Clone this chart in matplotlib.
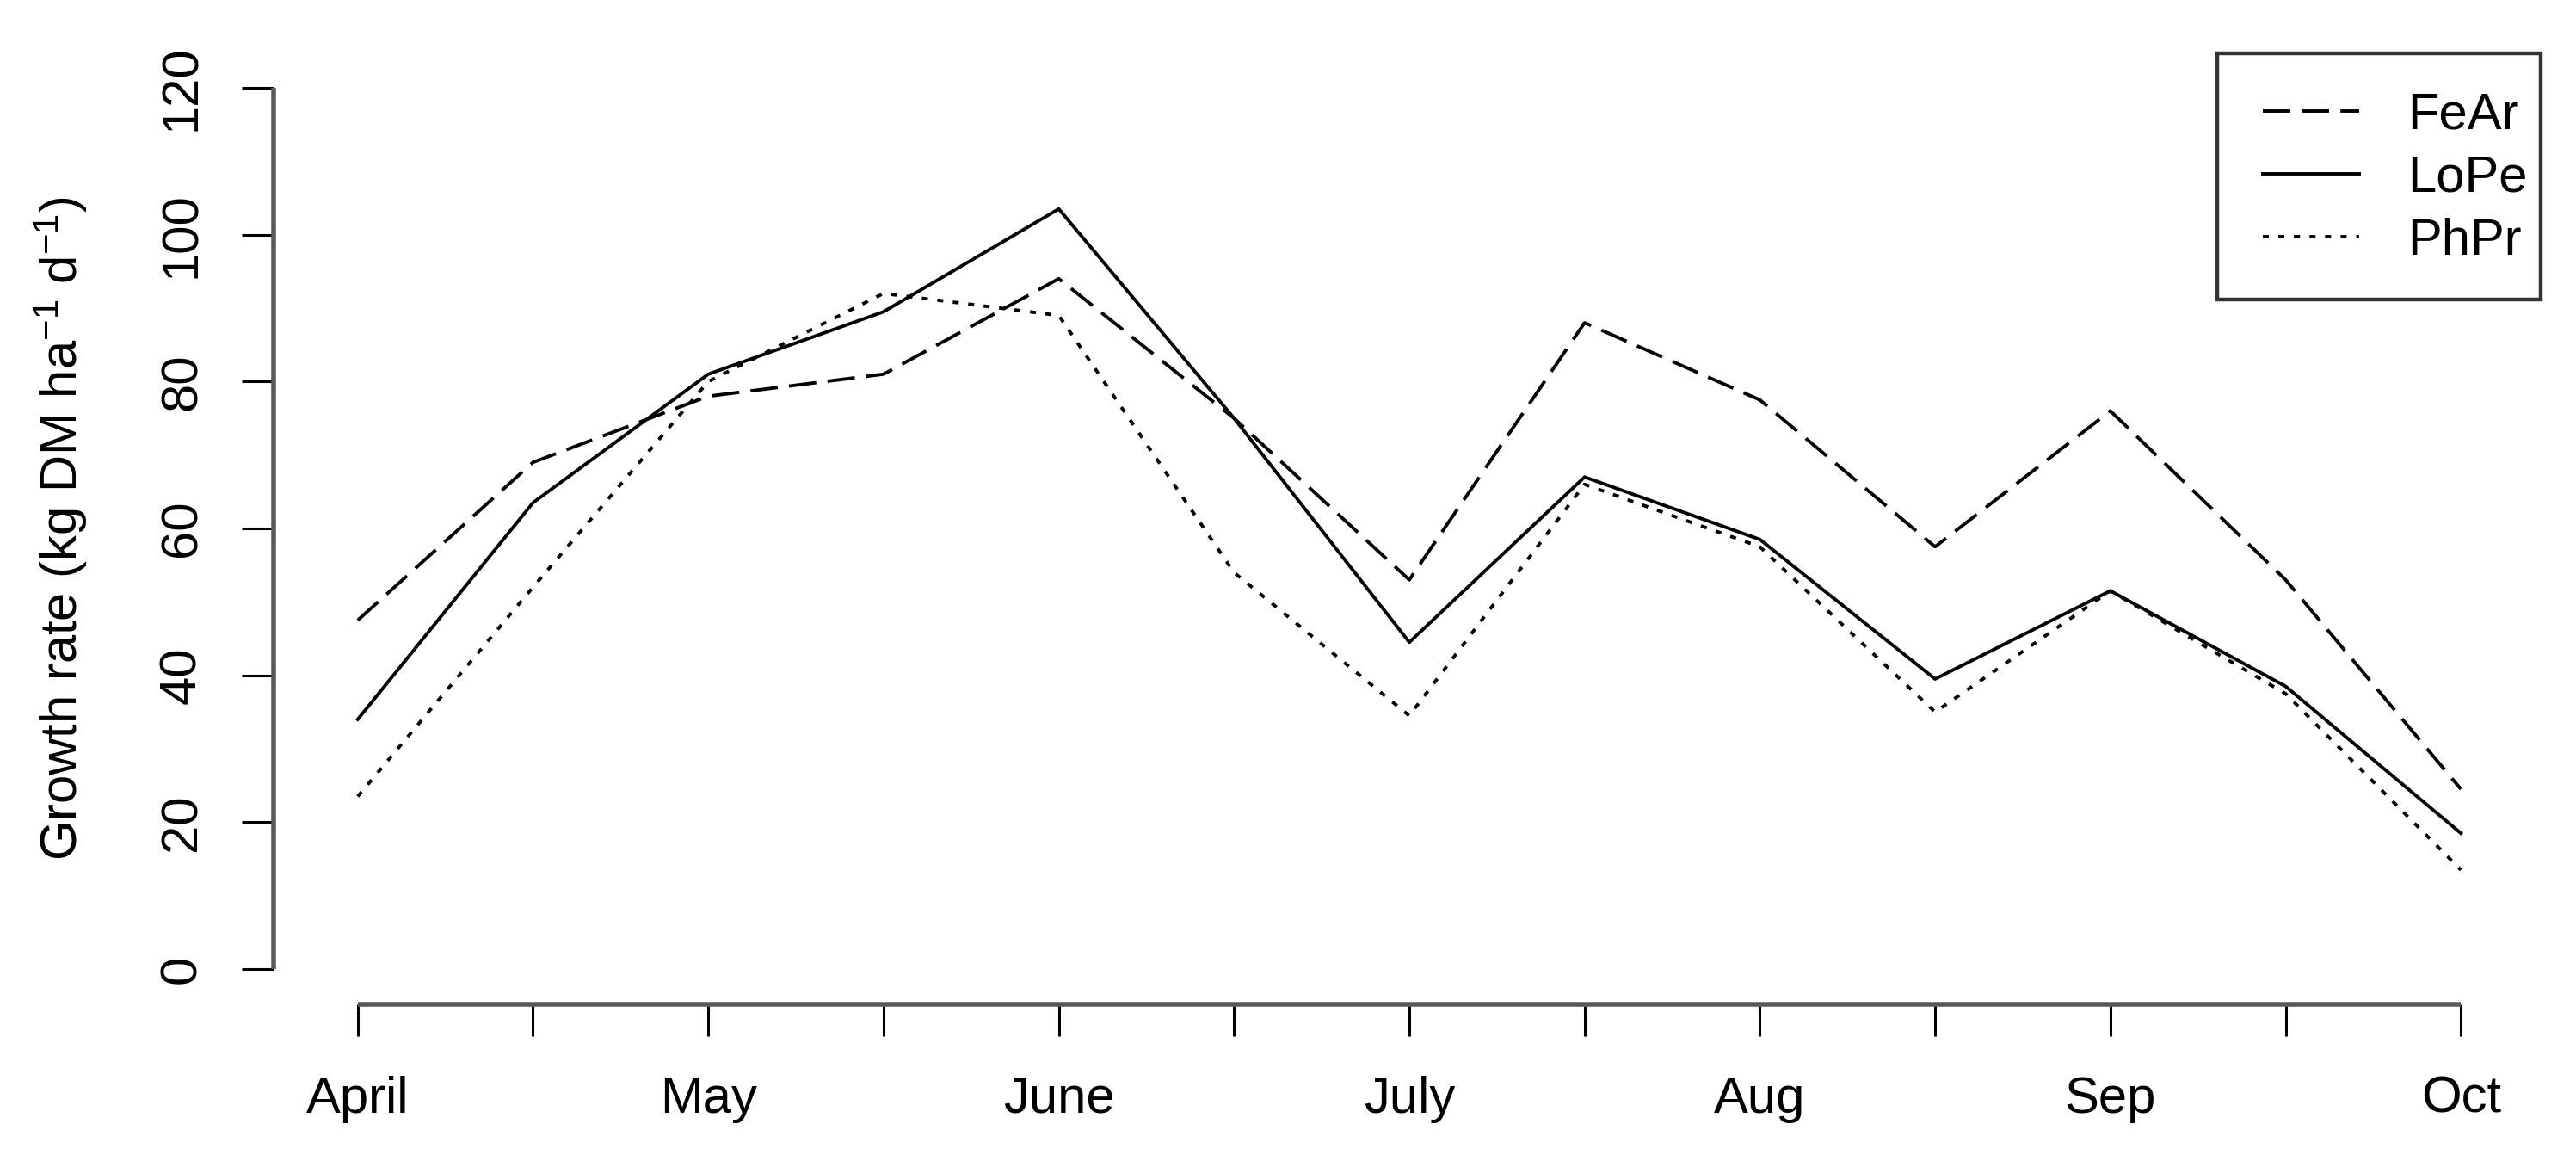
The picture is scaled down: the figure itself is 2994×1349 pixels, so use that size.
import matplotlib
matplotlib.use('Agg')
import matplotlib.pyplot as plt
from matplotlib.patches import Rectangle
import numpy as np

# 数据
months = ['April', '', 'May', '', 'June', '', 'July', '', 'Aug', '', 'Sep', '', 'Oct']
fear = [47.5, 69, 78, 81, 94, 75, 53, 88, 77.5, 57.5, 76, 53, 24.5]
lope = [34, 63.5, 81, 89.5, 103.5, 75, 44.5, 67, 58.5, 39.5, 51.5, 38.5, 18.5]
phpr = [23.5, 52, 80, 92, 89, 54, 34.5, 66, 57.5, 35, 51.5, 37.5, 13.5]
y_ticks = [0, 20, 40, 60, 80, 100, 120]

plt.rcParams['font.family'] = ['Liberation Sans', 'DejaVu Sans']
plt.rcParams['mathtext.default'] = 'regular'

W, H, DPI = 2994, 1349, 200
fig = plt.figure(figsize=(W / DPI, H / DPI), dpi=DPI)

# 画图区域（R 风格，坐标轴两端各留 4%）
left, right, top, bottom = 318, 2958, 61, 1167
ax = fig.add_axes([left / W, 1 - bottom / H, (right - left) / W, (bottom - top) / H])

x = np.arange(len(months))
lw = 1.4
ax.plot(x, fear, color='black', lw=lw, linestyle=(0, (8.2, 3.4)), label='FeAr')
ax.plot(x, lope, color='black', lw=lw, linestyle='-', label='LoPe')
ax.plot(x, phpr, color='black', lw=lw, linestyle=(0, (1.8, 2.85)), label='PhPr')

ax.set_xlim(-0.48, 12.48)
ax.set_ylim(-4.8, 124.8)

for s in ['top', 'right']:
    ax.spines[s].set_visible(False)
ax.spines['left'].set_bounds(0, 120)
ax.spines['bottom'].set_bounds(0, 12)
for s in ['left', 'bottom']:
    ax.spines[s].set_linewidth(2.0)
    ax.spines[s].set_color('#5a5a5a')
    ax.spines[s].set_capstyle('butt')

fs = 21.5
ax.set_xticks(x)
ax.set_xticklabels(months)
ax.set_yticks(y_ticks)
ax.set_yticklabels([str(v) for v in y_ticks], rotation=90, va='center')
ax.tick_params(axis='both', length=13.3, width=1.1, color='black', labelsize=fs)
ax.tick_params(axis='y', pad=15)
ax.tick_params(axis='x', pad=16.5)

ax.set_ylabel('Growth rate (kg DM ha$^{-1}$ d$^{-1}$)', fontsize=fs, va='center')
ax.yaxis.set_label_coords((70 - left) / (right - left), 0.5)

# 图例：外框单独画
def fx(px):
    return px / W

def fy(py):
    return 1 - py / H

fig.patches.append(Rectangle((fx(2577), fy(348)), fx(2953) - fx(2577), fy(62) - fy(348),
                             transform=fig.transFigure, fill=False,
                             edgecolor='#333333', lw=1.6, zorder=5))
leg = ax.legend(loc='upper left', bbox_to_anchor=(fx(2630), fy(107)),
                bbox_transform=fig.transFigure, borderaxespad=0, borderpad=0,
                fontsize=fs, frameon=False, handlelength=1.875,
                handletextpad=0.94, labelspacing=0.30)

fig.savefig('out.png', dpi=DPI)
